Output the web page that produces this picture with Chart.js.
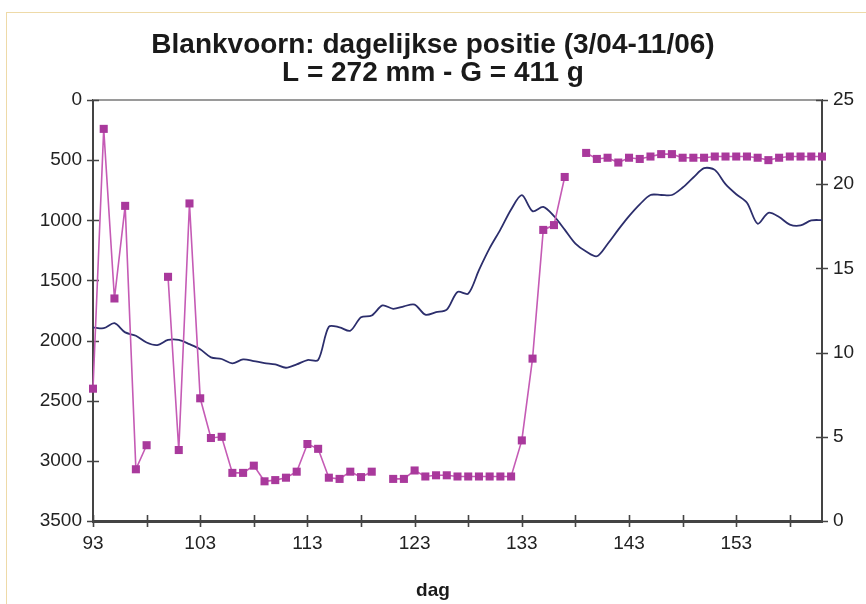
<!DOCTYPE html>
<html>
<head>
<meta charset="utf-8">
<script src="https://cdn.jsdelivr.net/npm/chart.js@4.4.1/dist/chart.umd.min.js"></script>
<style>
  html, body { margin: 0; padding: 0; background: #ffffff; }
  #wrap { position: relative; width: 866px; height: 604px; overflow: hidden; }
  #frame { position: absolute; left: 6px; top: 12px; width: 880px; height: 620px;
           border-top: 1px solid #eedaa8; border-left: 1px solid #eedaa8; }
  #c { position: absolute; left: 0; top: 0; }
</style>
</head>
<body>
<div id="wrap">
  <div id="frame"></div>
  <canvas id="c" width="866" height="604"></canvas>
</div>
<script>
// Dag van het jaar (3 april = dag 93 ... 11 juni = dag 161)
const days = [
  93, 94, 95, 96, 97, 98, 99, 100, 101, 102,
  103, 104, 105, 106, 107, 108, 109, 110, 111, 112,
  113, 114, 115, 116, 117, 118, 119, 120, 121, 122,
  123, 124, 125, 126, 127, 128, 129, 130, 131, 132,
  133, 134, 135, 136, 137, 138, 139, 140, 141, 142,
  143, 144, 145, 146, 147, 148, 149, 150, 151, 152,
  153, 154, 155, 156, 157, 158, 159, 160, 161
];

// Dagelijkse positie van de blankvoorn (linkeras, omgekeerd); null = geen positie
const positie = [
  2400, 240, 1650, 880, 3070, 2870, null, 1470, 2910, 860,
  2480, 2810, 2800, 3100, 3100, 3040, 3170, 3160, 3140, 3090,
  2860, 2900, 3140, 3150, 3090, 3135, 3090, null, 3150, 3150,
  3080, 3130, 3120, 3120, 3130, 3130, 3130, 3130, 3130, 3130,
  2830, 2150, 1080, 1040, 640, null, 440, 490, 480, 520,
  480, 490, 470, 450, 450, 480, 480, 480, 470, 470,
  470, 470, 480, 500, 480, 470, 470, 470, 470
];

// Watertemperatuur (rechteras)
const temperatuur = [
  11.5, 11.45, 11.75, 11.2, 11.0, 10.6, 10.45, 10.75, 10.75, 10.5,
  10.2, 9.72, 9.62, 9.36, 9.6, 9.5, 9.38, 9.3, 9.1, 9.3,
  9.56, 9.56, 11.54, 11.5, 11.3, 12.1, 12.2, 12.8, 12.6, 12.75,
  12.85, 12.25, 12.4, 12.55, 13.6, 13.5, 14.9, 16.2, 17.3, 18.5,
  19.35, 18.4, 18.65, 18.1, 17.3, 16.47, 16.0, 15.72, 16.45, 17.3,
  18.1, 18.8, 19.36, 19.36, 19.36, 19.8, 20.4, 20.95, 20.85, 20.0,
  19.4, 18.9, 17.65, 18.3, 18.05, 17.6, 17.55, 17.85, 17.87
];

// Streepjes op de dag-as (label om de 10 dagen)
const dayTicks = [93, 98, 103, 108, 113, 118, 123, 128, 133, 138, 143, 148, 153, 158];
const dayLabels = [93, 103, 113, 123, 133, 143, 153];

const FONT = '"Liberation Sans", Arial, Helvetica, sans-serif';
const AXIS_COLOR = '#444444';
const TEXT_COLOR = '#222222';

// Kruisende maatstreepjes op de assen en lijn boven het tekengebied
const axisDecor = {
  id: 'axisDecor',
  beforeDatasetsDraw(chart) {
    const ctx = chart.ctx;
    const a = chart.chartArea;
    const sx = chart.scales.x, yl = chart.scales.yPos, yr = chart.scales.yTemp;
    ctx.save();
    ctx.strokeStyle = '#9a9a9a';
    ctx.lineWidth = 2;
    ctx.beginPath();
    ctx.moveTo(a.left, a.top);
    ctx.lineTo(a.right, a.top);
    ctx.stroke();

    ctx.strokeStyle = AXIS_COLOR;
    ctx.lineWidth = 1.6;
    ctx.beginPath();
    sx.ticks.forEach(t => {
      const px = Math.round(sx.getPixelForValue(t.value)) + 0.5;
      ctx.moveTo(px, a.bottom - 6);
      ctx.lineTo(px, a.bottom + 6);
    });
    yl.ticks.forEach(t => {
      const py = Math.round(yl.getPixelForValue(t.value)) + 0.5;
      ctx.moveTo(a.left - 6, py);
      ctx.lineTo(a.left + 6, py);
    });
    yr.ticks.forEach(t => {
      const py = Math.round(yr.getPixelForValue(t.value)) + 0.5;
      ctx.moveTo(a.right - 6, py);
      ctx.lineTo(a.right + 6, py);
    });
    ctx.stroke();
    ctx.restore();
  }
};

const tickFont = { family: FONT, size: 19 };

new Chart(document.getElementById('c'), {
  type: 'line',
  data: {
    datasets: [
      {
        label: 'Positie',
        data: days.map((d, i) => ({ x: d, y: positie[i] })),
        yAxisID: 'yPos',
        borderColor: '#c55bb5',
        borderWidth: 1.6,
        pointStyle: 'rect',
        pointRadius: 5.7,
        pointBackgroundColor: '#a9399c',
        pointBorderColor: '#a9399c',
        pointBorderWidth: 0,
        spanGaps: false,
        tension: 0,
        clip: false,
        order: 1
      },
      {
        label: 'Temperatuur',
        data: days.map((d, i) => ({ x: d, y: temperatuur[i] })),
        yAxisID: 'yTemp',
        borderColor: '#2c2e6c',
        borderWidth: 1.8,
        pointRadius: 0,
        tension: 0.3,
        clip: false,
        order: 2
      }
    ]
  },
  options: {
    responsive: false,
    animation: false,
    events: [],
    layout: { padding: 0 },
    plugins: {
      legend: { display: false },
      tooltip: { enabled: false },
      title: {
        display: true,
        text: ['Blankvoorn: dagelijkse positie (3/04-11/06)', 'L = 272 mm - G = 411 g'],
        color: '#1a1a1a',
        font: { family: FONT, size: 28, weight: 'bold', lineHeight: 1.0 },
        padding: { top: 31, bottom: 13 }
      },
      subtitle: {
        display: true,
        position: 'bottom',
        text: 'dag',
        color: '#1a1a1a',
        font: { family: FONT, size: 19, weight: 'bold', lineHeight: 1.2 },
        padding: { top: 0, bottom: 2 }
      }
    },
    scales: {
      x: {
        type: 'linear',
        min: 93,
        max: 161,
        afterBuildTicks: s => { s.ticks = dayTicks.map(v => ({ value: v })); },
        afterFit: s => { s.height = 58.2; },
        ticks: {
          autoSkip: false,
          maxRotation: 0,
          padding: 5,
          color: TEXT_COLOR,
          font: tickFont,
          callback: v => (dayLabels.includes(v) ? String(v) : '')
        },
        grid: { display: true, drawOnChartArea: false, drawTicks: true, tickLength: 6, color: 'rgba(0,0,0,0)' },
        border: { display: true, color: AXIS_COLOR, width: 3 }
      },
      yPos: {
        type: 'linear',
        position: 'left',
        reverse: true,
        min: 0,
        max: 3500,
        afterFit: s => { s.width = 93; },
        ticks: {
          stepSize: 500,
          padding: 5,
          color: TEXT_COLOR,
          font: tickFont,
          callback: v => String(v)
        },
        grid: { display: true, drawOnChartArea: false, drawTicks: true, tickLength: 6, color: 'rgba(0,0,0,0)' },
        border: { display: true, color: AXIS_COLOR, width: 2 }
      },
      yTemp: {
        type: 'linear',
        position: 'right',
        min: 0,
        max: 25,
        afterFit: s => { s.width = 44; },
        ticks: {
          stepSize: 5,
          padding: 5,
          color: TEXT_COLOR,
          font: tickFont,
          callback: v => String(v)
        },
        grid: { display: true, drawOnChartArea: false, drawTicks: true, tickLength: 6, color: 'rgba(0,0,0,0)' },
        border: { display: true, color: AXIS_COLOR, width: 2 }
      }
    }
  },
  plugins: [axisDecor]
});
</script>
</body>
</html>
